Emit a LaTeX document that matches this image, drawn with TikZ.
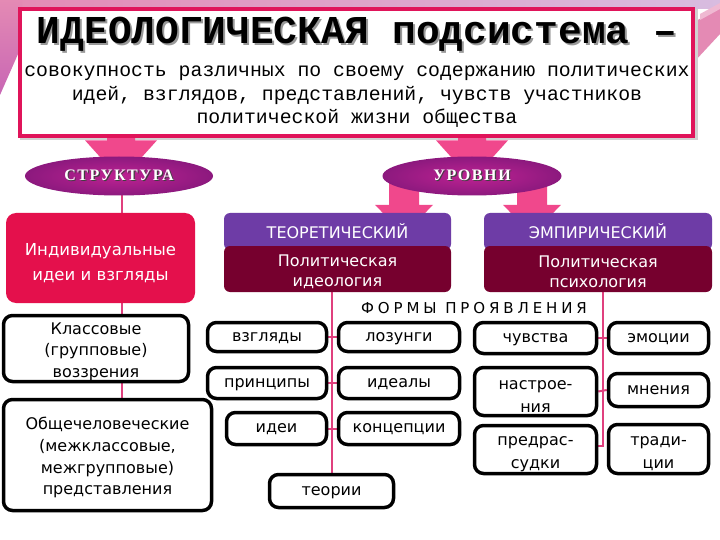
\documentclass[tikz,border=0pt]{standalone}
\usepackage{fontspec}
\setmainfont{DejaVu Sans}
\newfontfamily\monofam{Liberation Mono}
\newfontfamily\ellfont{Liberation Serif}[LetterSpace=10]
\newfontfamily\spacedfont{DejaVu Sans}[LetterSpace=26]
\usetikzlibrary{calc,shapes.geometric}
\pgfdeclarelayer{bg}
\pgfsetlayers{bg,main}
\definecolor{crim}{HTML}{E0145A}
\definecolor{apink}{HTML}{F0488C}
\definecolor{ellin}{HTML}{BE2292}
\definecolor{ellout}{HTML}{8C197E}
\definecolor{purp}{HTML}{6E3CA6}
\definecolor{maroonc}{HTML}{76002E}
\definecolor{redbox}{HTML}{E4104C}
\definecolor{lpink}{HTML}{E0407E}
\definecolor{bgpink}{HTML}{E48AB4}
\definecolor{bglilac}{HTML}{D8BCE0}
\definecolor{bgmag}{HTML}{C866B4}
\newcommand\shtext[3]{\rlap{\hspace{#1}\raisebox{-#1}{\color{#2}#3}}#3}
\newcommand\tallfirst{\rule{0pt}{18pt}}
\newcommand\barrow[5]{% start, tip, shaft half, head half, head length
  \path[fill=apink] let \p1=(#1), \p2=(#2) in
    (\x1-#3pt,\y1) -- (\x1+#3pt,\y1) -- (\x1+#3pt,\y2+#5pt) -- (\x1+#4pt,\y2+#5pt)
    -- (\x1,\y2) -- (\x1-#4pt,\y2+#5pt) -- (\x1-#3pt,\y2+#5pt) -- cycle;}
\begin{document}
\begin{tikzpicture}[x=1pt,y=-1pt,
  hdrbox/.style={draw=crim, line width=4pt, fill=white, inner sep=0},
  ell/.style={ellipse, inner color=ellin, outer color=ellout, inner sep=0,
    font=\ellfont\bfseries\fontsize{16}{18}\selectfont, text=white},
  fbox/.style={draw=black, line width=3.5pt, rounded corners=9pt, fill=white,
    inner sep=0, align=center, font=\fontsize{16}{21.7}\selectfont},
  sline/.style={fbox, text height=12.5pt, text depth=3.8pt},
  mline/.style={fbox, font=\fontsize{16}{23}\selectfont},
  lvltop/.style={fill=purp, rounded corners=6pt, inner sep=0, text=white,
    font=\fontsize{16}{18}\selectfont},
  lvlbot/.style={fill=maroonc, rounded corners=6pt, inner sep=0, text=white,
    align=center, font=\fontsize{16}{20}\selectfont},
  conn/.style={draw=lpink, line width=2pt}]
\useasboundingbox (0,0) rectangle (720,540);
\begin{pgfonlayer}{bg}
  \fill[white] (0,0) rectangle (720,540);
  % slide background decorations
  \shade[left color=bgpink, right color=bglilac] (0,0) rectangle (720,9);
  \shade[top color=bgpink, bottom color=bgmag] (0,0) -- (22,0) -- (22,45) -- (0,95) -- cycle;
  \fill[bgpink] (694,22) -- (720,8) -- (720,34) -- (694,62) -- cycle;
  \fill[bgpink!60] (700,14) -- (720,3) -- (720,9) -- (700,20) -- cycle;
  \fill[black!18] (20,9) rectangle (697.5,140);
\end{pgfonlayer}
% header
\node[hdrbox, minimum width=673, minimum height=127] (hdr) at (356.5,72.5) {};
\node[font=\monofam\bfseries\fontsize{39.5}{41}\selectfont] (title) at (357,35)
  {\shtext{2pt}{black!40}{ИДЕОЛОГИЧЕСКАЯ подсистема –}};
\node[font=\monofam\fontsize{19.8}{23.5}\selectfont, align=center] (sub) at (357,97)
  {совокупность различных по своему содержанию политических\\идей, взглядов, представлений, чувств участников\\политической жизни общества};
% ellipses
\node[ell, minimum width=188, minimum height=39] (strk) at (119,176)
  {\shtext{1.2pt}{black!75}{СТРУКТУРА}};
\node[ell, minimum width=179, minimum height=39] (urov) at (472,176)
  {\shtext{1.2pt}{black!75}{УРОВНИ}};
% left column
\node[fill=redbox, rounded corners=10pt, minimum width=189, minimum height=90, inner sep=0] (indiv) at (100.5,258) {};
\node[text=white, align=center, font=\fontsize{16.5}{25}\selectfont] (indivt) at (100.5,263)
  {Индивидуальные\\идеи и взгляды};
\node[fbox, minimum width=185, minimum height=66] (klass) at (96,348.5)
  {\tallfirst Классовые\\(групповые)\\воззрения};
\node[fbox, minimum width=208, minimum height=111] (obsh) at (107.5,455)
  {\tallfirst Общечеловеческие\\(межклассовые,\\межгрупповые)\\представления};
% levels
\node[lvltop, minimum width=227, minimum height=37] (teorT) at (337.5,231.5) {ТЕОРЕТИЧЕСКИЙ};
\node[lvlbot, minimum width=227, minimum height=46] (teorB) at (337.5,269) {\tallfirst Политическая\\идеология};
\node[lvltop, minimum width=228, minimum height=37] (empT) at (598,231.5) {ЭМПИРИЧЕСКИЙ};
\node[lvlbot, minimum width=228, minimum height=46] (empB) at (598,269) {\tallfirst Политическая\\психология};
\node[font=\spacedfont\fontsize{15}{18}\selectfont] (formy) at (474,308) {ФОРМЫ ПРОЯВЛЕНИЯ};
% forms
\node[sline, minimum width=119, minimum height=29] (vz) at (267,337) {взгляды};
\node[sline, minimum width=121, minimum height=29] (loz) at (399,337) {лозунги};
\node[sline, minimum width=119, minimum height=31] (princ) at (267,383) {принципы};
\node[sline, minimum width=121, minimum height=31] (ideal) at (399,383) {идеалы};
\node[sline, minimum width=100, minimum height=32] (idei) at (276.5,428.5) {идеи};
\node[sline, minimum width=121, minimum height=32] (konc) at (399,428.5) {концепции};
\node[sline, minimum width=124, minimum height=33] (teor) at (331.5,491) {теории};
\node[sline, minimum width=122, minimum height=31] (chuv) at (535.5,338) {чувства};
\node[sline, minimum width=100, minimum height=31] (emoc) at (658.5,338) {эмоции};
\node[mline, minimum width=122, minimum height=48] (nastr) at (535.5,391.5) {\tallfirst настрое-\\ния};
\node[sline, minimum width=100, minimum height=33] (mnen) at (658.5,390) {мнения};
\node[mline, minimum width=122, minimum height=48] (predr) at (535.5,449.5) {\tallfirst предрас-\\судки};
\node[mline, minimum width=100, minimum height=49] (trad) at (658.5,449) {\tallfirst тради-\\ции};
% helper coordinates for connector columns
\coordinate (sx) at (122,0);
\coordinate (tx) at (332,0);
\coordinate (rx) at (603,0);
\coordinate (a1) at (121,0);
\coordinate (a2) at (472,0);
\coordinate (a3) at (404,0);
\coordinate (a4) at (532,0);
\begin{pgfonlayer}{bg}
  % block arrows
  \barrow{hdr.center -| a1}{$(strk.north -| a1)+(0,24)$}{14}{36}{40}
  \barrow{hdr.center -| a2}{$(urov.north -| a2)+(0,24)$}{14}{36}{40}
  \barrow{urov.center -| a3}{$(teorT.north -| a3)+(0,22)$}{15}{29}{30}
  \barrow{urov.center -| a4}{$(empT.north -| a4)+(0,22)$}{15}{29}{30}
  % connectors
  \draw[conn] (strk.center -| sx) -- (indiv.center -| sx);
  \draw[conn] (indiv.center -| sx) -- (klass.center -| sx);
  \draw[conn] (klass.center -| sx) -- (obsh.center -| sx);
  \draw[conn] (teorB.center -| tx) -- (teor.center -| tx);
  \draw[conn] (vz.east) -- (loz.west);
  \draw[conn] (princ.east) -- (ideal.west);
  \draw[conn] (idei.east) -- (konc.west);
  \draw[conn] (empB.center -| rx) -- ($(rx |- predr.east)+(0,-4)$) -- ($(predr.east)+(0,-4)$);
  \draw[conn] (chuv.east) -- (emoc.west);
  \draw[conn] (nastr.east) -- (mnen.west);
\end{pgfonlayer}
\end{tikzpicture}
\end{document}
